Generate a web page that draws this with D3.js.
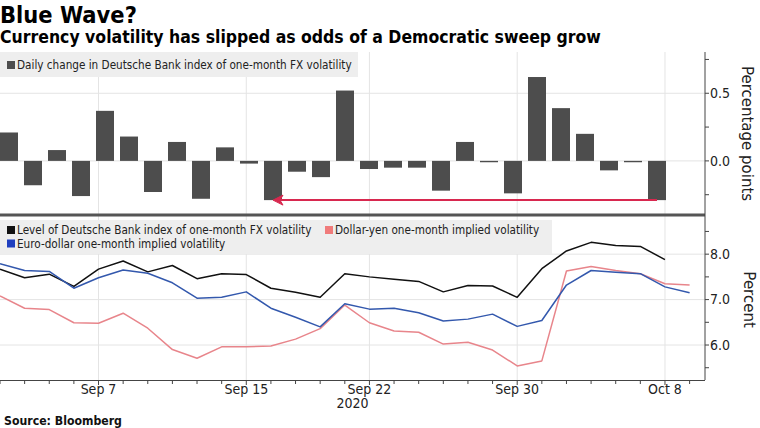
<!DOCTYPE html>
<html>
<head>
<meta charset="utf-8">
<script src="https://cdn.jsdelivr.net/npm/d3@7"></script>
<style>
  html, body { margin: 0; padding: 0; background: #fff; }
  svg { display: block; }
  .cond { font-family: "DejaVu Sans Condensed", "DejaVu Sans", sans-serif; font-stretch: condensed; }
  .reg { font-family: "DejaVu Sans", sans-serif; }
</style>
</head>
<body>
<svg id="chart" width="760" height="428"></svg>
<script>
// ---------------- DATA ----------------
const dates = ["2020-09-01","2020-09-02","2020-09-03","2020-09-04","2020-09-07","2020-09-08","2020-09-09",
  "2020-09-10","2020-09-11","2020-09-14","2020-09-15","2020-09-16","2020-09-17","2020-09-18","2020-09-21",
  "2020-09-22","2020-09-23","2020-09-24","2020-09-25","2020-09-28","2020-09-29","2020-09-30","2020-10-01",
  "2020-10-02","2020-10-05","2020-10-06","2020-10-07","2020-10-08","2020-10-09"];
const dailyChange = [0.21,-0.18,0.08,-0.26,0.37,0.18,-0.23,0.14,-0.28,0.10,-0.02,-0.29,-0.08,-0.12,0.52,
  -0.06,-0.05,-0.05,-0.22,0.14,-0.01,-0.24,0.62,0.39,0.20,-0.07,-0.01,-0.29];
const dbIndexLevel = [7.67,7.48,7.56,7.29,7.67,7.85,7.61,7.75,7.46,7.57,7.55,7.25,7.16,7.05,7.57,
  7.50,7.45,7.40,7.17,7.31,7.30,7.05,7.68,8.07,8.26,8.19,8.17,7.88];
const usdJpyVol = [7.08,6.81,6.78,6.49,6.48,6.70,6.37,5.90,5.71,5.96,5.96,5.98,6.13,6.36,6.88,
  6.49,6.31,6.28,6.02,6.06,5.89,5.54,5.65,7.63,7.73,7.64,7.57,7.35,7.32];
const eurUsdVol = [7.79,7.64,7.62,7.25,7.48,7.65,7.58,7.37,7.03,7.05,7.17,6.81,6.61,6.40,6.91,
  6.79,6.81,6.71,6.53,6.57,6.68,6.41,6.54,7.32,7.64,7.60,7.57,7.28,7.15];
const xTickDates = ["2020-09-07","2020-09-15","2020-09-22","2020-09-30","2020-10-08"];
const xTickLabels = ["Sep 7","Sep 15","Sep 22","Sep 30","Oct 8"];
const topTicks = [-0.25, 0, 0.25, 0.5, 0.75];
const topLabeled = [0, 0.5];
const botTicks = [5.5, 6, 6.5, 7, 7.5, 8, 8.5];
const botLabeled = [6, 7, 8];
const arrowFrom = "2020-10-08", arrowTo = "2020-09-16", arrowLevel = -0.29;

// ---------------- LAYOUT ----------------
const svg = d3.select("#chart");
svg.append("rect").attr("width", 760).attr("height", 428).attr("fill", "#fff");
const plotR = 705;
const topY0 = 52, topY1 = 215, botY0 = 216, botY1 = 380;
const gridC = "#e4e4e4", axisC = "#444";

const x = d3.scalePoint().domain(dates).range([0, 689.6]);
const xBar = d3.scaleBand().domain(dates.slice(0, dailyChange.length)).range([-3, 669])
  .paddingInner(0.25).paddingOuter(0.125);
const yTop = d3.scaleLinear().domain([-0.4, 0.805]).range([topY1, topY0]);
const yBot = d3.scaleLinear().domain([5.23, 8.84]).range([botY1, botY0]);

function fit(sel, target) {
  const base = 20;
  sel.attr("font-size", base);
  const w = sel.node().getComputedTextLength();
  const s = base * target / w;
  sel.attr("font-size", s);
  return s;
}

// ---------------- TITLES ----------------
fit(svg.append("text").attr("class", "cond").attr("x", 0).attr("y", 23)
  .attr("font-weight", "bold").attr("fill", "#000").text("Blue Wave?"), 137);
fit(svg.append("text").attr("class", "cond").attr("x", 0).attr("y", 43)
  .attr("font-weight", "bold").attr("fill", "#000")
  .text("Currency volatility has slipped as odds of a Democratic sweep grow"), 601);

// ---------------- GRIDS ----------------
const g = svg.append("g");
g.selectAll(".vgt").data(xTickDates).join("line")
  .attr("x1", d => x(d)).attr("x2", d => x(d)).attr("y1", topY0).attr("y2", topY1)
  .attr("stroke", gridC).attr("stroke-width", 1);
g.selectAll(".vgb").data(xTickDates).join("line")
  .attr("x1", d => x(d)).attr("x2", d => x(d)).attr("y1", botY0).attr("y2", botY1)
  .attr("stroke", gridC).attr("stroke-width", 1);
g.selectAll(".hgt").data(topLabeled).join("line")
  .attr("x1", 0).attr("x2", plotR).attr("y1", d => yTop(d)).attr("y2", d => yTop(d))
  .attr("stroke", gridC);
g.selectAll(".hgb").data(botLabeled).join("line")
  .attr("x1", 0).attr("x2", plotR).attr("y1", d => yBot(d)).attr("y2", d => yBot(d))
  .attr("stroke", gridC);

// ---------------- LEGENDS ----------------
svg.append("rect").attr("x", 0).attr("y", 52).attr("width", 358).attr("height", 25).attr("fill", "#eeeeee");
svg.append("rect").attr("x", 7).attr("y", 61).attr("width", 8).attr("height", 8).attr("fill", "#4d4d4d");
const legT = svg.append("text").attr("class", "cond").attr("x", 17).attr("y", 69).attr("fill", "#222")
  .text("Daily change in Deutsche Bank index of one-month FX volatility");
const legSize = fit(legT, 335);

svg.append("rect").attr("x", 0).attr("y", 220).attr("width", 552).attr("height", 34).attr("fill", "#eeeeee");
const legItems = [
  {c: "#111111", x: 7, y: 234, t: "Level of Deutsche Bank index of one-month FX volatility"},
  {c: "#f07b7b", x: 325, y: 234, t: "Dollar-yen one-month implied volatility"},
  {c: "#1f3fbf", x: 7, y: 247.5, t: "Euro-dollar one-month implied volatility"}
];
legItems.forEach(d => {
  svg.append("rect").attr("x", d.x).attr("y", d.y - 8).attr("width", 8).attr("height", 8).attr("fill", d.c);
  svg.append("text").attr("class", "cond").attr("x", d.x + 10).attr("y", d.y).attr("fill", "#222")
    .attr("font-size", legSize).text(d.t);
});

// ---------------- BARS ----------------
svg.append("g").selectAll("rect").data(dailyChange).join("rect")
  .attr("x", (d, i) => xBar(dates[i])).attr("width", xBar.bandwidth())
  .attr("y", d => yTop(Math.max(0, d))).attr("height", d => Math.abs(yTop(d) - yTop(0)))
  .attr("fill", "#4d4d4d");

// arrow annotation
const ax1 = xBar(arrowFrom) + xBar.bandwidth() / 2, ax2 = xBar(arrowTo) + xBar.bandwidth() / 2;
const ay = yTop(arrowLevel);
svg.append("line").attr("x1", ax1).attr("x2", ax2 + 6).attr("y1", ay).attr("y2", ay)
  .attr("stroke", "#d8284f").attr("stroke-width", 2);
svg.append("path").attr("d", `M${ax2},${ay} L${ax2 + 10},${ay - 5} L${ax2 + 7},${ay} L${ax2 + 10},${ay + 5} Z`)
  .attr("fill", "#d8284f").attr("stroke", "#d8284f").attr("stroke-width", 1).attr("stroke-linejoin", "round");

// separator
svg.append("line").attr("x1", 0).attr("x2", plotR).attr("y1", 215).attr("y2", 215)
  .attr("stroke", "#555").attr("stroke-width", 3);

// ---------------- LINES ----------------
const line = arr => d3.line().x((d, i) => x(dates[i])).y(d => yBot(d))(arr);
[[dbIndexLevel, "#111111"], [usdJpyVol, "#e8858b"], [eurUsdVol, "#3358ad"]].forEach(([arr, c]) => {
  svg.append("path").attr("d", line(arr)).attr("fill", "none").attr("stroke", c)
    .attr("stroke-width", 1.5).attr("stroke-linejoin", "round");
});

// ---------------- AXES ----------------
svg.append("line").attr("x1", plotR).attr("x2", plotR).attr("y1", topY0).attr("y2", botY1)
  .attr("stroke", axisC).attr("stroke-width", 1);
svg.append("line").attr("x1", 0).attr("x2", plotR).attr("y1", botY1 + 0.5).attr("y2", botY1 + 0.5)
  .attr("stroke", axisC).attr("stroke-width", 1);

const fmt = d3.format(".1f");
const rTop = svg.append("g");
rTop.selectAll("line").data(topTicks).join("line")
  .attr("x1", plotR).attr("x2", plotR + 4).attr("y1", d => yTop(d)).attr("y2", d => yTop(d)).attr("stroke", axisC);
rTop.selectAll("text").data(topLabeled).join("text").attr("class", "cond")
  .attr("x", plotR + 5).attr("y", d => yTop(d)).attr("dy", "0.35em").attr("font-size", 14).attr("fill", "#222")
  .text(d => fmt(d));
const rBot = svg.append("g");
rBot.selectAll("line").data(botTicks).join("line")
  .attr("x1", plotR).attr("x2", plotR + 4).attr("y1", d => yBot(d)).attr("y2", d => yBot(d)).attr("stroke", axisC);
rBot.selectAll("text").data(botLabeled).join("text").attr("class", "cond")
  .attr("x", plotR + 5).attr("y", d => yBot(d)).attr("dy", "0.35em").attr("font-size", 14).attr("fill", "#222")
  .text(d => fmt(d));

svg.append("text").attr("class", "reg").attr("font-size", 15).attr("fill", "#222")
  .attr("text-anchor", "middle").attr("dy", "0.35em")
  .attr("transform", `translate(747,${(yTop(0.805) + yTop(-0.4)) / 2}) rotate(90)`)
  .text("Percentage points");
svg.append("text").attr("class", "reg").attr("font-size", 15).attr("fill", "#222")
  .attr("text-anchor", "middle").attr("dy", "0.35em")
  .attr("transform", `translate(749,${yBot(7)}) rotate(90)`)
  .text("Percent");

// x ticks
svg.append("g").selectAll("line").data(dates).join("line")
  .attr("x1", d => x(d)).attr("x2", d => x(d)).attr("y1", botY1).attr("y2", d => xTickDates.includes(d) ? botY1 + 5 : botY1 + 4)
  .attr("stroke", axisC);
svg.append("g").selectAll("text").data(xTickDates).join("text").attr("class", "cond")
  .attr("x", d => x(d)).attr("y", 394).attr("text-anchor", "middle").attr("font-size", 14).attr("fill", "#222")
  .text((d, i) => xTickLabels[i]);
svg.append("text").attr("class", "cond").attr("x", plotR / 2).attr("y", 408).attr("text-anchor", "middle")
  .attr("font-size", 14).attr("fill", "#222").text("2020");

fit(svg.append("text").attr("class", "cond").attr("x", 4).attr("y", 425).attr("font-weight", "bold")
  .attr("fill", "#111").text("Source: Bloomberg"), 118);
</script>
</body>
</html>
